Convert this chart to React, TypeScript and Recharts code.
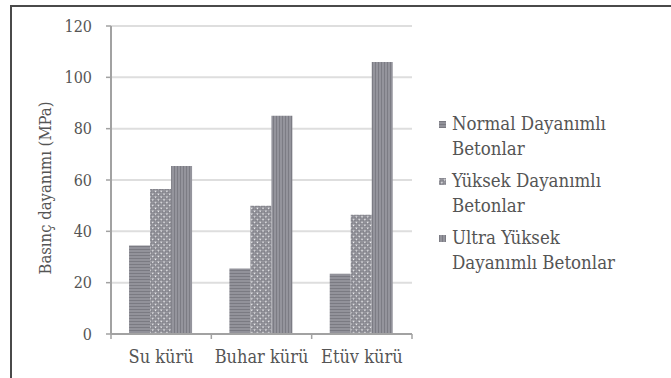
import { BarChart, Bar, XAxis, YAxis, CartesianGrid, Legend } from "recharts";

const categories = ["Su kürü", "Buhar kürü", "Etüv kürü"];
const normalValues = [34.5, 25.5, 23.5];
const highValues = [56.5, 50, 46.5];
const ultraValues = [65.5, 85, 106];
const yTicks = [0, 20, 40, 60, 80, 100, 120];
const seriesNames = [
  "Normal Dayanımlı Betonlar",
  "Yüksek Dayanımlı Betonlar",
  "Ultra Yüksek Dayanımlı Betonlar",
];
const patternIds = ["hatch-normal", "hatch-high", "hatch-ultra"];

const data = categories.map((name, i) => ({
  name,
  normal: normalValues[i],
  high: highValues[i],
  ultra: ultraValues[i],
}));

const W = 671;
const H = 378;
const MARGIN = { top: 26, right: 259, bottom: 0, left: 0 };
const Y_AXIS_W = 111;
const X_AXIS_H = 44;
const PLOT_W = W - MARGIN.left - MARGIN.right - Y_AXIS_W;

const FONT = "DejaVu Serif Condensed, DejaVu Serif";
const TEXT = "#555555";
const AXIS = "#a2a2a2";
const GRID = "#dedede";

function CategoryTick(props: any) {
  const { x, y, payload, index } = props;
  const half = PLOT_W / categories.length / 2;
  return (
    <g>
      <line x1={x - half} x2={x - half} y1={y} y2={y + 5} stroke={AXIS} strokeWidth={1.5} />
      {index === categories.length - 1 && (
        <line x1={x + half} x2={x + half} y1={y} y2={y + 5} stroke={AXIS} strokeWidth={1.5} />
      )}
      <text x={x} y={y + 29} textAnchor="middle" fill={TEXT} fontSize={18} fontFamily={FONT} fontStretch="condensed">
        {payload.value}
      </text>
    </g>
  );
}

function YTitle(props: any) {
  const { x, y, height } = props.viewBox;
  const cx = x + 45;
  const cy = y + height / 2 + 8;
  return (
    <text
      x={cx}
      y={cy}
      transform={`rotate(-90 ${cx} ${cy})`}
      textAnchor="middle"
      dominantBaseline="central"
      fill={TEXT}
      fontSize={16.5}
      fontFamily={FONT}
      fontStretch="condensed"
    >
      Basınç dayanımı (MPa)
    </text>
  );
}

function LegendBox() {
  return (
    <div style={{ fontFamily: FONT, fontStretch: "condensed", fontSize: 18.5, color: TEXT, width: 185 }}>
      {seriesNames.map((name, i) => (
        <div key={name} style={{ display: "flex", alignItems: "flex-start", lineHeight: "25px", marginBottom: 7 }}>
          <svg width={7} height={7} style={{ marginTop: 10, marginRight: 6, flex: "none" }}>
            <rect width={7} height={7} fill={`url(#${patternIds[i]})`} />
          </svg>
          <span>{name}</span>
        </div>
      ))}
    </div>
  );
}

export default function App() {
  return (
    <div style={{ position: "absolute", left: 0, top: 0, width: W, height: H, background: "#fff", overflow: "hidden" }}>
      <div
        style={{
          position: "absolute",
          left: 10,
          top: 5,
          width: 659,
          height: 400,
          borderTop: "2px solid #4a4a4a",
          borderLeft: "2px solid #4a4a4a",
          borderRight: "2px solid #4a4a4a",
        }}
      />
      <BarChart
        width={W}
        height={H}
        data={data}
        margin={MARGIN}
        barCategoryGap="18%"
        barGap={0}
        style={{ position: "absolute", left: 0, top: 0 }}
      >
        <defs>
          <pattern id="hatch-normal" width={4} height={3} patternUnits="userSpaceOnUse">
            <rect width={4} height={3} fill="#92929a" />
            <rect width={4} height={1} fill="#7a7a82" />
          </pattern>
          <pattern id="hatch-high" width={4} height={4} patternUnits="userSpaceOnUse" patternTransform="rotate(45)">
            <rect width={4} height={4} fill="#85858d" />
            <rect x={0.5} y={0.5} width={1.5} height={1.5} fill="#f4f4f6" />
            <rect x={2.5} y={2.5} width={1} height={1} fill="#c8c8ce" />
          </pattern>
          <pattern id="hatch-ultra" width={3} height={4} patternUnits="userSpaceOnUse">
            <rect width={3} height={4} fill="#94949c" />
            <rect width={1} height={4} fill="#7c7c84" />
          </pattern>
        </defs>
        <CartesianGrid vertical={false} stroke={GRID} strokeWidth={2} />
        <XAxis
          dataKey="name"
          height={X_AXIS_H}
          axisLine={{ stroke: AXIS, strokeWidth: 2 }}
          tickLine={false}
          tickSize={0}
          tickMargin={0}
          tick={<CategoryTick />}
          interval={0}
        />
        <YAxis
          width={Y_AXIS_W}
          domain={[0, 120]}
          ticks={yTicks}
          interval={0}
          axisLine={{ stroke: AXIS, strokeWidth: 2 }}
          tickLine={{ stroke: AXIS, strokeWidth: 1.5 }}
          tickSize={5}
          tickMargin={14}
          tick={{ fill: TEXT, fontSize: 16, fontFamily: FONT, fontStretch: "condensed" }}
          label={<YTitle />}
        />
        <YAxis
          yAxisId="frame"
          orientation="right"
          width={0}
          domain={[0, 120]}
          axisLine={{ stroke: AXIS, strokeWidth: 2 }}
          tick={false}
          tickLine={false}
        />
        <Legend
          layout="vertical"
          align="center"
          verticalAlign="middle"
          content={<LegendBox />}
          wrapperStyle={{ left: 439, top: 111, width: 190 }}
        />
        <Bar dataKey="normal" name={seriesNames[0]} fill="url(#hatch-normal)" isAnimationActive={false} />
        <Bar dataKey="high" name={seriesNames[1]} fill="url(#hatch-high)" isAnimationActive={false} />
        <Bar dataKey="ultra" name={seriesNames[2]} fill="url(#hatch-ultra)" isAnimationActive={false} />
      </BarChart>
    </div>
  );
}
